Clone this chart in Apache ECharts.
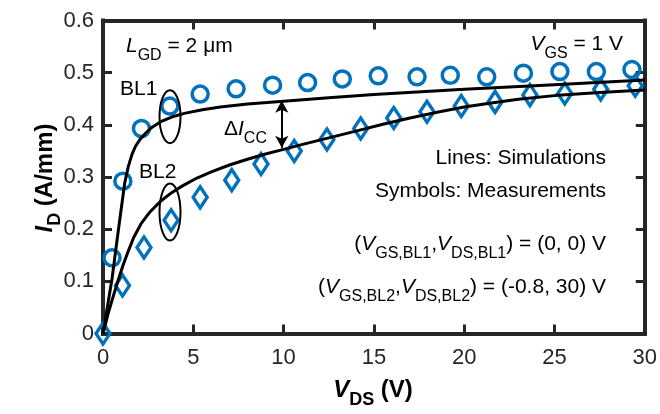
<!DOCTYPE html>
<html lang="en">
<head>
<meta charset="utf-8">
<title>ID - VDS, BL1 / BL2</title>
<script src="https://cdn.jsdelivr.net/npm/echarts@6/dist/echarts.min.js"></script>
<style>
	html, body { margin: 0; padding: 0; background: #fff; }
	#main { width: 660px; height: 414px; }
</style>
</head>
<body>
<div id="main"></div>
<script>
	// measurements (symbols)
	var bl1Vds = [0.5, 1.1, 2.13, 3.7, 5.38, 7.37, 9.39, 11.33, 13.25, 15.24, 17.39, 19.23, 21.25, 23.28, 25.3, 27.32, 29.29];
	var bl1Id = [0.145, 0.292, 0.393, 0.436, 0.459, 0.469, 0.476, 0.481, 0.488, 0.494, 0.492, 0.495, 0.492, 0.499, 0.502, 0.502, 0.506];
	var bl2Vds = [0, 1.08, 2.27, 3.77, 5.38, 7.13, 8.75, 10.59, 12.4, 14.27, 16.1, 17.94, 19.84, 21.71, 23.64, 25.57, 27.56, 29.47];
	var bl2Id = [0, 0.092, 0.165, 0.217, 0.261, 0.294, 0.325, 0.35, 0.372, 0.393, 0.413, 0.425, 0.436, 0.444, 0.457, 0.46, 0.468, 0.475];

	// simulations (lines)
	var simBl1Vds = [0, 0.5, 0.85, 1.2, 1.4, 1.6, 1.8, 2.05, 2.3, 2.7, 3.2, 3.8, 4.5, 5.5, 6.5, 8, 10, 12.5, 15, 20, 25, 30];
	var simBl1Id = [0, 0.105, 0.198, 0.288, 0.32, 0.343, 0.359, 0.372, 0.382, 0.395, 0.406, 0.415, 0.422, 0.429, 0.434, 0.44, 0.445, 0.452, 0.458, 0.468, 0.477, 0.486];
	var simBl2Vds = [0, 0.3, 0.6, 0.85, 1.1, 1.4, 1.7, 2.1, 2.6, 3.2, 3.8, 4.4, 5.2, 6, 7, 8, 9, 10, 11, 12.5, 14, 15.5, 17, 18.5, 20, 21.5, 23, 25, 27.5, 30];
	var simBl2Id = [0, 0.04, 0.075, 0.103, 0.13, 0.158, 0.184, 0.21, 0.233, 0.254, 0.27, 0.283, 0.298, 0.31, 0.323, 0.334, 0.344, 0.353, 0.362, 0.375, 0.388, 0.401, 0.413, 0.424, 0.434, 0.442, 0.449, 0.456, 0.462, 0.467];

	var xMin = 0, xMax = 30, xStep = 5;
	var yMin = 0, yMax = 0.6, yStep = 0.1;

	function pairs(xs, ys) {
		var out = [];
		for (var i = 0; i < xs.length; i++) out.push([xs[i], ys[i]]);
		return out;
	}

	var FONT = '"Liberation Sans", Arial, sans-serif';
	var AX = '#262626';
	var BLUE = '#0072BD';

	var rich = {
		n: { fontSize: 21, fontFamily: FONT, color: '#000' },
		it: { fontSize: 21, fontFamily: FONT, fontStyle: 'italic', color: '#000' },
		sub: { fontSize: 16, fontFamily: FONT, color: '#000', padding: [19, 0, 0, 0] },
		b: { fontSize: 24, fontFamily: FONT, fontWeight: 'bold', color: '#000' },
		bi: { fontSize: 24, fontFamily: FONT, fontWeight: 'bold', fontStyle: 'italic', color: '#000' },
		bsub: { fontSize: 18, fontFamily: FONT, fontWeight: 'bold', color: '#000', padding: [20, 0, 0, 0] }
	};

	function axisX(pos, labels) {
		return {
			type: 'value', position: pos, min: xMin, max: xMax, interval: xStep,
			axisLine: { onZero: false, lineStyle: { color: AX, width: 4, cap: 'square' } },
			axisTick: { inside: true, length: 9, lineStyle: { color: AX, width: 3 } },
			axisLabel: { show: labels, margin: 13, fontSize: 22, color: AX, fontFamily: FONT },
			splitLine: { show: false }
		};
	}
	function axisY(pos, labels) {
		return {
			type: 'value', position: pos, min: yMin, max: yMax, interval: yStep,
			axisLine: { onZero: false, lineStyle: { color: AX, width: 4, cap: 'square' } },
			axisTick: { inside: true, length: 9, lineStyle: { color: AX, width: 3 } },
			axisLabel: { show: labels, margin: 9, fontSize: 22, color: AX, fontFamily: FONT },
			splitLine: { show: false }
		};
	}

	var myChart = echarts.init(document.getElementById('main'), null, { renderer: 'canvas' });

	var option = {
		animation: false,
		backgroundColor: '#fff',
		grid: { left: 103, right: 14, top: 20.5, bottom: 80.5 },
		xAxis: [axisX('bottom', true), axisX('top', false)],
		yAxis: [axisY('left', true), axisY('right', false)],
		series: [{
			name: 'BL1 sim',
			type: 'line',
			data: pairs(simBl1Vds, simBl1Id),
			showSymbol: false,
			lineStyle: { color: '#000', width: 3, join: 'round' },
			markLine: {
				silent: true,
				symbol: ['arrow', 'arrow'],
				symbolSize: [10, 12],
				lineStyle: { color: '#000', width: 2, type: 'solid' },
				label: { show: false },
				data: [[{ coord: [9.9, 0.446] }, { coord: [9.9, 0.356] }]]
			}
		}, {
			name: 'BL2 sim',
			type: 'line',
			data: pairs(simBl2Vds, simBl2Id),
			showSymbol: false,
			lineStyle: { color: '#000', width: 3, join: 'round' }
		}, {
			name: 'BL1',
			type: 'scatter',
			data: pairs(bl1Vds, bl1Id),
			symbol: 'circle',
			symbolSize: 16,
			itemStyle: { color: 'rgba(0,0,0,0)', borderColor: BLUE, borderWidth: 3.5, opacity: 1 }
		}, {
			name: 'BL2',
			type: 'scatter',
			data: pairs(bl2Vds, bl2Id),
			symbol: 'diamond',
			symbolSize: [14, 21],
			itemStyle: { color: 'rgba(0,0,0,0)', borderColor: BLUE, borderWidth: 3.5, opacity: 1 }
		}]
	};
	myChart.setOption(option);

	// annotations: ellipses placed in data space, text in the plot frame
	var e1 = myChart.convertToPixel({ gridIndex: 0 }, [3.71, 0.4156]);
	var e2 = myChart.convertToPixel({ gridIndex: 0 }, [3.71, 0.233]);

	function txt(x, y, text, align) {
		return {
			type: 'text', x: x, y: y, z: 100,
			style: { text: text, rich: rich, align: align || 'left', verticalAlign: 'middle' }
		};
	}

	myChart.setOption({
		graphic: [
			{ type: 'ellipse', z: 90, shape: { cx: e1[0], cy: e1[1], rx: 10.5, ry: 26.5 }, style: { fill: 'none', stroke: '#000', lineWidth: 2 } },
			{ type: 'ellipse', z: 90, shape: { cx: e2[0], cy: e2[1], rx: 10.5, ry: 28.5 }, style: { fill: 'none', stroke: '#000', lineWidth: 2 } },
			txt(126, 46, '{it|L}{sub|GD}{n| = 2 μm}'),
			txt(623, 44, '{it|V}{sub|GS}{n| = 1 V}', 'right'),
			txt(120, 89, '{n|BL1}'),
			txt(139, 172, '{n|BL2}'),
			txt(224, 129, '{n|Δ}{it|I}{sub|CC}'),
			txt(606, 158, '{n|Lines: Simulations}', 'right'),
			txt(606, 191, '{n|Symbols: Measurements}', 'right'),
			txt(606, 244, '{n|(}{it|V}{sub|GS,BL1}{n|,}{it|V}{sub|DS,BL1}{n|) = (0, 0) V}', 'right'),
			txt(606, 287, '{n|(}{it|V}{sub|GS,BL2}{n|,}{it|V}{sub|DS,BL2}{n|) = (-0.8, 30) V}', 'right'),
			txt(373, 390, '{bi|V}{bsub|DS}{b| (V)}', 'center'),
			{
				type: 'text', x: 45, y: 178, rotation: Math.PI / 2, z: 100,
				style: { text: '{bi|I}{bsub|D}{b| (A/mm)}', rich: rich, align: 'center', verticalAlign: 'middle' }
			}
		]
	});
</script>
</body>
</html>
